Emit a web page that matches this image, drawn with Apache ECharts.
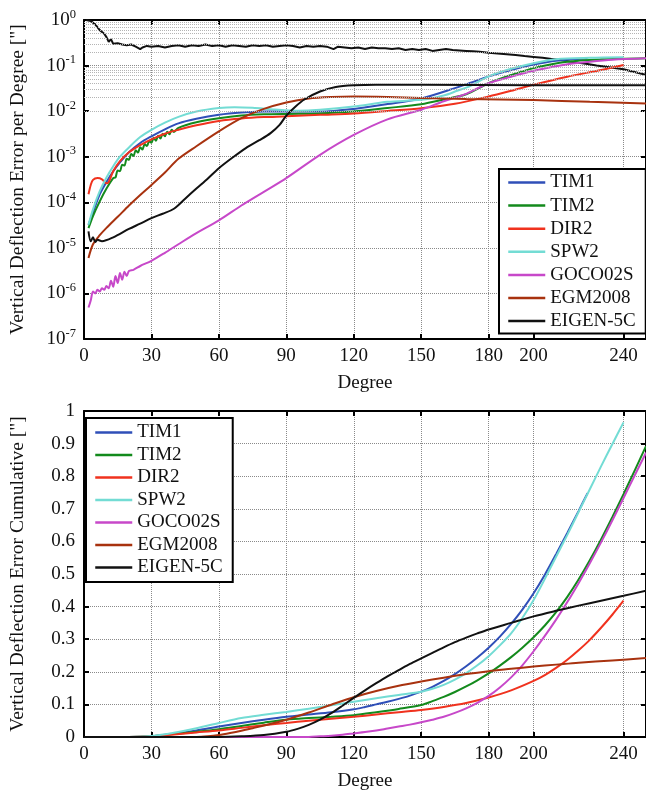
<!DOCTYPE html>
<html>
<head>
<meta charset="utf-8">
<script src="https://cdn.jsdelivr.net/npm/echarts@6/dist/echarts.min.js"></script>
<style>
  html, body { margin: 0; padding: 0; background: #fff; }
  #chart { width: 646px; height: 795px; }
</style>
</head>
<body>
<div id="chart"></div>
<script>
const names = ['TIM1', 'TIM2', 'DIR2', 'SPW2', 'GOCO02S', 'EGM2008', 'EIGEN-5C']
const colors = ['#2f4fb8', '#138a1c', '#f0321e', '#73dcd4', '#c748c9', '#a8320f', '#111111']
const degreeTicks = [0, 30, 60, 90, 120, 150, 180, 200, 240]

// per degree error (log axis) [degree, value]
const tim1Top = [[2, 3.2e-5], [4, 6e-5], [7, 1.5e-4], [10, 2.8e-4], [13, 4.8e-4], [16, 7.5e-4], [20, 1.25e-3], [25, 2e-3], [30, 2.8e-3], [36, 4e-3], [42, 5.4e-3], [50, 6.8e-3], [60, 8.3e-3], [70, 9.3e-3], [80, 9.8e-3], [90, 0.0099], [105, 0.0098], [120, 0.0112], [135, 0.0143], [150, 0.019], [165, 0.032], [172, 0.042], [180, 0.058], [190, 0.08], [200, 0.105], [210, 0.128], [224, 0.143]]
const tim2Top = [[2, 2.7e-5], [4, 5e-5], [7, 1.05e-4], [10, 2e-4], [13, 3.4e-4], [14, 3.5e-4], [15, 5e-4], [16, 4.8e-4], [17, 6.7e-4], [18, 6.4e-4], [19, 9e-4], [20, 8.6e-4], [21, 1.15e-3], [22, 1.04e-3], [23, 1.38e-3], [24, 1.23e-3], [25, 1.62e-3], [26, 1.44e-3], [27, 1.9e-3], [28, 1.71e-3], [29, 2.2e-3], [30, 2.03e-3], [31, 2.6e-3], [32, 2.25e-3], [33, 2.9e-3], [34, 2.5e-3], [35, 3.2e-3], [36, 2.8e-3], [37, 3.55e-3], [38, 3.1e-3], [39, 3.9e-3], [40, 3.5e-3], [42, 4.3e-3], [50, 5.7e-3], [60, 7e-3], [70, 8e-3], [80, 8.5e-3], [90, 8.7e-3], [105, 8.9e-3], [120, 9.8e-3], [135, 0.0117], [150, 0.0142], [160, 0.018], [170, 0.0235], [180, 0.041], [190, 0.062], [200, 0.088], [215, 0.122], [230, 0.137], [250, 0.145]]
const dir2Top = [[2, 1.5e-4], [3, 2.4e-4], [4, 3.1e-4], [6, 3.4e-4], [8, 3.2e-4], [10, 2.6e-4], [11, 2.8e-4], [13, 4.8e-4], [16, 8e-4], [20, 1.25e-3], [25, 1.8e-3], [30, 2.4e-3], [36, 3.2e-3], [42, 3.9e-3], [50, 4.9e-3], [60, 6.1e-3], [70, 6.9e-3], [80, 7.4e-3], [90, 7.7e-3], [105, 8.3e-3], [120, 8.9e-3], [135, 0.0101], [150, 0.0116], [165, 0.0145], [180, 0.021], [190, 0.028], [200, 0.038], [215, 0.057], [230, 0.08], [240, 0.103]]
const spw2Top = [[2, 3.2e-5], [4, 7e-5], [7, 1.75e-4], [10, 3.5e-4], [13, 6.2e-4], [16, 1e-3], [20, 1.6e-3], [25, 2.7e-3], [30, 3.9e-3], [36, 5.6e-3], [42, 7.5e-3], [50, 9.8e-3], [60, 0.0117], [67, 0.0122], [75, 0.0118], [85, 0.0108], [95, 0.0102], [105, 0.0107], [120, 0.0126], [135, 0.016], [150, 0.0177], [160, 0.022], [166, 0.028], [172, 0.036], [180, 0.058], [190, 0.085], [200, 0.113], [210, 0.138], [225, 0.148], [240, 0.152]]
const gocoTop = [[2, 4.9e-7], [3, 7e-7], [4, 1.1e-6], [5, 1e-6], [6, 1.2e-6], [7, 1.1e-6], [8, 1.3e-6], [9, 1.2e-6], [10, 1.45e-6], [11, 1.3e-6], [12, 1.9e-6], [13, 1.4e-6], [14, 2.4e-6], [15, 1.7e-6], [16, 2.8e-6], [17, 2e-6], [18, 3e-6], [19, 2.4e-6], [20, 3.1e-6], [22, 3.3e-6], [25, 4e-6], [30, 5.2e-6], [36, 7.8e-6], [42, 1.2e-5], [50, 2.1e-5], [60, 4e-5], [70, 8.5e-5], [80, 1.7e-4], [90, 3.4e-4], [105, 1.1e-3], [120, 3e-3], [135, 6.6e-3], [150, 0.0107], [160, 0.0165], [170, 0.024], [180, 0.041], [190, 0.057], [200, 0.077], [215, 0.107], [225, 0.122], [235, 0.135], [250, 0.145]]
const egmTop = [[2, 6e-6], [4, 1.2e-5], [7, 1.9e-5], [10, 2.75e-5], [15, 4.8e-5], [20, 8.5e-5], [25, 1.45e-4], [30, 2.4e-4], [36, 4.5e-4], [42, 9e-4], [50, 1.7e-3], [60, 3.6e-3], [70, 7e-3], [80, 0.0112], [90, 0.0155], [100, 0.019], [110, 0.0205], [120, 0.021], [135, 0.0205], [150, 0.0195], [170, 0.0185], [200, 0.0175], [225, 0.016], [250, 0.0148]]
const eigenTop = [[2, 2.3e-5], [3, 1.4e-5], [4, 1.7e-5], [5, 1.35e-5], [6, 1.5e-5], [8, 1.4e-5], [13, 1.7e-5], [20, 2.6e-5], [25, 3.4e-5], [30, 4.5e-5], [35, 5.6e-5], [40, 7.2e-5], [45, 1.2e-4], [50, 2e-4], [55, 3.3e-4], [60, 5.6e-4], [66, 9.5e-4], [72, 1.55e-3], [78, 2.3e-3], [83, 3.3e-3], [87, 5e-3], [90, 8e-3], [94, 0.0125], [98, 0.018], [105, 0.027], [112, 0.034], [120, 0.037], [130, 0.038], [150, 0.038], [200, 0.037], [250, 0.037]]
const signalTop = [[1, 1.0], [3, 0.95], [5, 0.8], [7, 0.6], [9, 0.5], [10, 0.42], [11, 0.33], [12, 0.38], [13, 0.3], [15, 0.31], [17, 0.29], [19, 0.28], [21, 0.29], [23, 0.26], [25, 0.23], [26, 0.25], [28, 0.27], [30, 0.26], [33, 0.27], [36, 0.25], [39, 0.27], [42, 0.28], [45, 0.26], [48, 0.28], [51, 0.27], [54, 0.29], [57, 0.27], [60, 0.28], [63, 0.26], [66, 0.28], [69, 0.27], [72, 0.26], [75, 0.28], [78, 0.27], [81, 0.28], [84, 0.26], [87, 0.27], [90, 0.28], [93, 0.27], [96, 0.25], [99, 0.27], [102, 0.26], [105, 0.27], [108, 0.26], [111, 0.23], [113, 0.26], [116, 0.25], [119, 0.24], [122, 0.25], [125, 0.23], [128, 0.25], [131, 0.24], [134, 0.24], [137, 0.23], [140, 0.24], [143, 0.22], [146, 0.23], [149, 0.22], [152, 0.23], [155, 0.21], [158, 0.22], [161, 0.23], [164, 0.22], [167, 0.215], [170, 0.21], [173, 0.205], [176, 0.2], [180, 0.19], [184, 0.185], [188, 0.178], [192, 0.17], [196, 0.162], [200, 0.155], [204, 0.148], [208, 0.14], [212, 0.132], [216, 0.123], [220, 0.115], [224, 0.108], [228, 0.1], [232, 0.094], [236, 0.088], [240, 0.083], [244, 0.074], [248, 0.066], [250, 0.063]]

// cumulative error [degree, value]
const tim1Cum = [[0, 0], [20, 0], [30, 0.002], [40, 0.01], [50, 0.02], [60, 0.032], [70, 0.043], [80, 0.053], [90, 0.062], [100, 0.069], [110, 0.076], [120, 0.085], [125, 0.092], [130, 0.1], [135, 0.108], [140, 0.117], [145, 0.127], [150, 0.139], [155, 0.154], [160, 0.172], [165, 0.193], [170, 0.217], [175, 0.244], [180, 0.274], [185, 0.308], [190, 0.347], [195, 0.391], [200, 0.441], [205, 0.498], [210, 0.561], [215, 0.626], [220, 0.693], [224, 0.748]]
const tim2Cum = [[0, 0], [20, 0], [30, 0.002], [40, 0.009], [50, 0.016], [60, 0.024], [70, 0.034], [80, 0.044], [90, 0.053], [100, 0.058], [110, 0.062], [120, 0.067], [130, 0.076], [140, 0.086], [150, 0.098], [155, 0.11], [160, 0.123], [165, 0.138], [170, 0.155], [175, 0.174], [180, 0.195], [185, 0.219], [190, 0.245], [195, 0.274], [200, 0.306], [205, 0.342], [210, 0.383], [215, 0.43], [220, 0.483], [225, 0.542], [230, 0.606], [235, 0.674], [240, 0.745], [245, 0.818], [250, 0.892]]
const dir2Cum = [[0, 0], [20, 0], [30, 0.002], [40, 0.008], [50, 0.014], [60, 0.02], [70, 0.028], [80, 0.036], [90, 0.043], [100, 0.05], [110, 0.056], [120, 0.062], [130, 0.069], [140, 0.076], [150, 0.083], [160, 0.092], [170, 0.104], [180, 0.121], [190, 0.143], [200, 0.172], [205, 0.19], [210, 0.212], [215, 0.237], [220, 0.266], [225, 0.298], [230, 0.335], [235, 0.375], [240, 0.418]]
const spw2Cum = [[0, 0], [20, 0], [30, 0.003], [40, 0.013], [50, 0.027], [60, 0.043], [70, 0.058], [80, 0.068], [90, 0.077], [100, 0.087], [110, 0.097], [120, 0.108], [130, 0.119], [140, 0.129], [150, 0.139], [155, 0.148], [160, 0.16], [165, 0.176], [170, 0.196], [175, 0.22], [180, 0.248], [185, 0.281], [190, 0.318], [195, 0.365], [200, 0.42], [205, 0.485], [210, 0.553], [215, 0.62], [220, 0.69], [225, 0.76], [230, 0.83], [235, 0.898], [240, 0.965]]
const gocoCum = [[0, 0], [100, 0], [105, 0.002], [110, 0.004], [115, 0.007], [120, 0.011], [125, 0.015], [130, 0.02], [135, 0.026], [140, 0.032], [145, 0.038], [150, 0.045], [155, 0.053], [160, 0.062], [165, 0.074], [170, 0.088], [175, 0.105], [180, 0.126], [185, 0.152], [190, 0.183], [195, 0.22], [200, 0.263], [205, 0.31], [210, 0.36], [215, 0.414], [220, 0.472], [225, 0.533], [230, 0.597], [235, 0.664], [240, 0.733], [245, 0.803], [250, 0.872]]
const egmCum = [[0, 0], [50, 0], [55, 0.002], [60, 0.006], [65, 0.012], [70, 0.019], [75, 0.027], [80, 0.035], [90, 0.053], [100, 0.075], [110, 0.099], [120, 0.122], [130, 0.141], [140, 0.157], [150, 0.17], [160, 0.182], [170, 0.193], [180, 0.202], [190, 0.209], [200, 0.216], [210, 0.222], [220, 0.228], [235, 0.235], [250, 0.242]]
const eigenCum = [[0, 0], [60, 0], [70, 0.002], [80, 0.006], [90, 0.016], [95, 0.025], [100, 0.037], [105, 0.053], [110, 0.073], [115, 0.096], [120, 0.12], [125, 0.143], [130, 0.165], [135, 0.186], [140, 0.205], [145, 0.224], [150, 0.241], [155, 0.258], [160, 0.275], [165, 0.291], [170, 0.305], [175, 0.318], [180, 0.33], [190, 0.35], [200, 0.37], [210, 0.387], [220, 0.403], [230, 0.418], [240, 0.433], [250, 0.449]]

const topData = [tim1Top, tim2Top, dir2Top, spw2Top, gocoTop, egmTop, eigenTop]
const cumData = [tim1Cum, tim2Cum, dir2Cum, spw2Cum, gocoCum, egmCum, eigenCum]

const FONT = 'Liberation Serif'
const textBase = { color: '#111', fontFamily: FONT, fontSize: 19 }

// minor log grid lines 2..9 x 10^n
const minorLines = []
for (let e = -7; e < 0; e++) {
  for (let k = 2; k <= 9; k++) minorLines.push({ yAxis: k * Math.pow(10, e) })
}

function frameAxis (extra) {
  return Object.assign({
    axisLine: { show: true, onZero: false, lineStyle: { color: '#000', width: 2 } },
    axisTick: { show: true, inside: true, length: 5, lineStyle: { color: '#000', width: 2 } },
    axisLabel: { show: false },
    splitLine: { show: false }
  }, extra)
}

function xAxisFor (gridIndex, position, labels) {
  return frameAxis({
    type: 'value',
    gridIndex: gridIndex,
    position: position,
    min: 0,
    max: 250,
    axisTick: { show: true, inside: true, length: 5, customValues: degreeTicks, lineStyle: { color: '#000', width: 2 } },
    axisLabel: labels ? Object.assign({ show: true, margin: 8, customValues: degreeTicks }, textBase) : { show: false },
    splitLine: labels ? { show: true, lineStyle: { color: '#8a8a8a', type: 'dotted', width: 1 } } : { show: false },
    name: labels ? 'Degree' : '',
    nameLocation: 'middle',
    nameGap: 35,
    nameTextStyle: textBase
  })
}

const series = []
series.push({
  name: 'signal',
  type: 'line',
  xAxisIndex: 0,
  yAxisIndex: 0,
  data: signalTop,
  symbol: 'none',
  lineStyle: { color: '#111', width: 2 },
  markLine: {
    silent: true,
    symbol: ['none', 'none'],
    label: { show: false },
    lineStyle: { color: '#b4b4b4', type: 'dotted', width: 1 },
    data: minorLines
  }
})
names.forEach((name, i) => {
  series.push({
    name: name,
    type: 'line',
    xAxisIndex: 0,
    yAxisIndex: 0,
    data: topData[i],
    symbol: 'none',
    smooth: 0.3,
    itemStyle: { color: colors[i] },
    lineStyle: { color: colors[i], width: 2 }
  })
})
names.forEach((name, i) => {
  series.push({
    name: name,
    type: 'line',
    xAxisIndex: 2,
    yAxisIndex: 2,
    data: cumData[i],
    symbol: 'none',
    smooth: 0.3,
    itemStyle: { color: colors[i] },
    lineStyle: { color: colors[i], width: 2 }
  })
})

const legendBase = {
  orient: 'vertical',
  data: names,
  itemWidth: 37,
  itemHeight: 14,
  borderColor: '#000',
  borderWidth: 2,
  borderRadius: 0,
  backgroundColor: '#fff',
  textStyle: textBase,
  itemStyle: { opacity: 0 },
  lineStyle: { width: 2.5 },
  selectedMode: false
}

const option = {
  animation: false,
  backgroundColor: '#fff',
  grid: [
    { left: 81, top: 20, width: 569, height: 319 },
    { left: 81, top: 411, width: 569, height: 326 }
  ],
  legend: [
    Object.assign({ left: 499, top: 169, itemGap: 4.1, padding: [4, 10, 3, 8] }, legendBase),
    Object.assign({ left: 86, top: 418, itemGap: 3.5, padding: [5, 10, 5, 8] }, legendBase)
  ],
  xAxis: [
    xAxisFor(0, 'bottom', true),
    xAxisFor(0, 'top', false),
    xAxisFor(1, 'bottom', true),
    xAxisFor(1, 'top', false)
  ],
  yAxis: [
    frameAxis({
      type: 'log',
      gridIndex: 0,
      position: 'left',
      min: 1e-7,
      max: 1,
      logBase: 10,
      axisLabel: {
        show: true,
        margin: 8,
        formatter: function (v) {
          return '{b|10}{e|' + Math.round(Math.log10(v)) + '}'
        },
        rich: {
          b: { fontFamily: FONT, fontSize: 19, color: '#111', lineHeight: 24 },
          e: { fontFamily: FONT, fontSize: 12.5, color: '#111', lineHeight: 14, verticalAlign: 'top' }
        }
      },
      splitLine: { show: true, lineStyle: { color: '#8a8a8a', type: 'dotted', width: 1 } },
      name: 'Vertical Deflection Error per Degree ["]',
      nameLocation: 'middle',
      nameGap: 56,
      nameTextStyle: Object.assign({}, textBase, { fontSize: 19.5 })
    }),
    frameAxis({ type: 'log', gridIndex: 0, position: 'right', min: 1e-7, max: 1, logBase: 10 }),
    frameAxis({
      type: 'value',
      gridIndex: 1,
      position: 'left',
      min: 0,
      max: 1,
      interval: 0.1,
      axisLabel: Object.assign({ show: true, margin: 9 }, textBase),
      splitLine: { show: true, lineStyle: { color: '#8a8a8a', type: 'dotted', width: 1 } },
      name: 'Vertical Deflection Error Cumulative ["]',
      nameLocation: 'middle',
      nameGap: 56,
      nameTextStyle: Object.assign({}, textBase, { fontSize: 19.5 })
    }),
    frameAxis({ type: 'value', gridIndex: 1, position: 'right', min: 0, max: 1, interval: 0.1 })
  ],
  series: series
}

const myChart = echarts.init(document.getElementById('chart'))
myChart.setOption(option)
</script>
</body>
</html>
